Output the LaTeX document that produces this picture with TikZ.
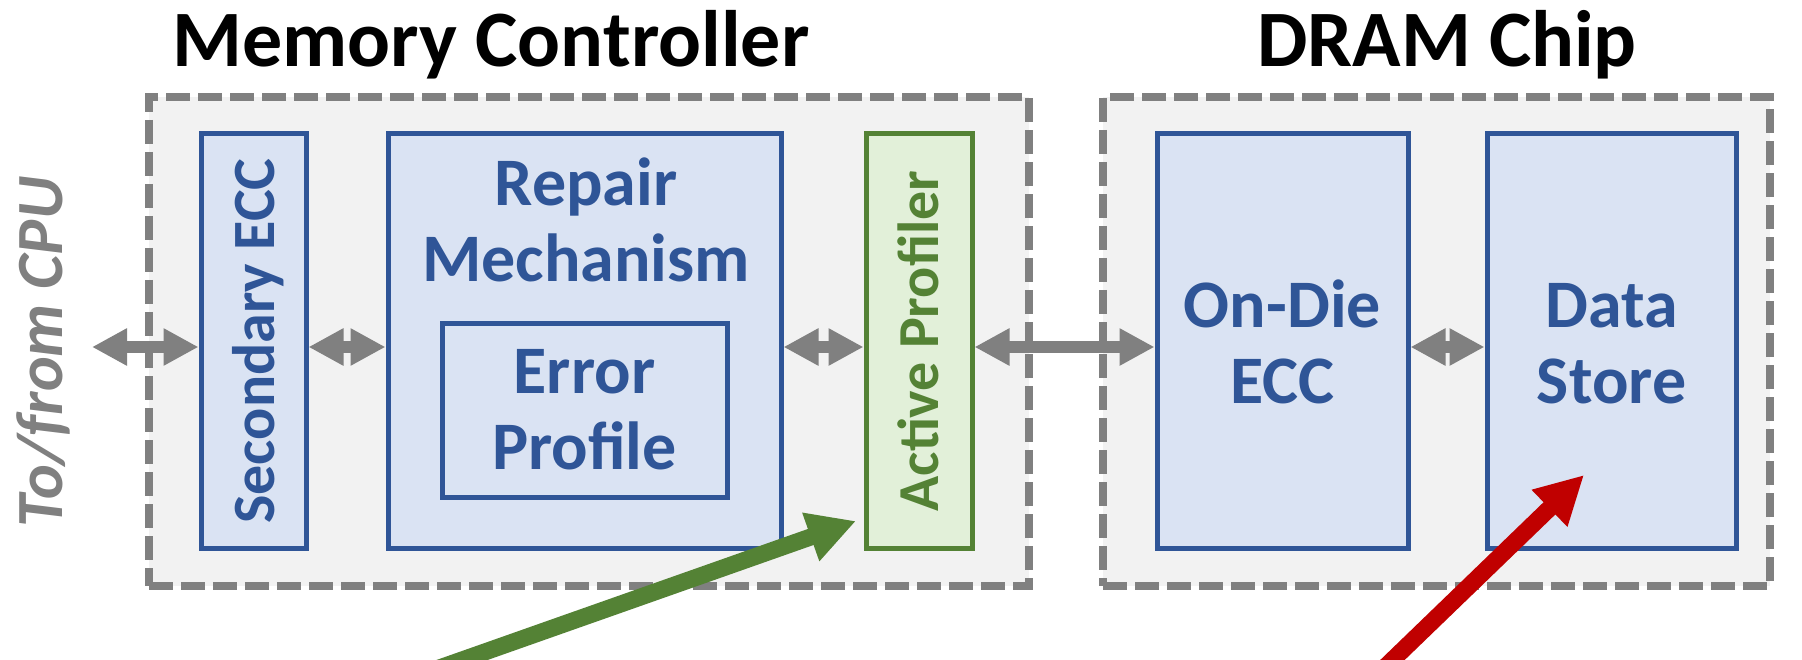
\documentclass[tikz,border=0pt]{standalone}
\usepackage{fontspec}
\setmainfont{Carlito}
\usetikzlibrary{arrows.meta}
\definecolor{boxblue}{HTML}{2F5597}
\definecolor{fillblue}{HTML}{DAE3F3}
\definecolor{boxgreen}{HTML}{548235}
\definecolor{fillgreen}{HTML}{E2F0D9}
\definecolor{linegray}{HTML}{808080}
\definecolor{regiongray}{HTML}{F2F2F2}
\definecolor{arrowred}{HTML}{C00000}
\begin{document}
\begin{tikzpicture}[x=1bp,y=-1bp,
  region/.style={draw=linegray, fill=regiongray, line width=8bp, dash pattern=on 24bp off 8bp, inner sep=0, minimum height=489bp},
  block/.style={draw=boxblue, fill=fillblue, line width=5bp, inner sep=0, minimum height=415bp},
  greenblock/.style={draw=boxgreen, fill=fillgreen, line width=5bp, inner sep=0, minimum height=415bp},
  lbl/.style={text=boxblue, font=\fontsize{68bp}{77bp}\selectfont\bfseries, anchor=base, inner sep=0},
  title/.style={text=black, font=\fontsize{80bp}{90bp}\selectfont\bfseries, anchor=base, inner sep=0},
  gar/.style={draw=linegray, line width=12bp, {Triangle[length=35bp,width=35bp]}-{Triangle[length=35bp,width=35bp]}},
  bigarrow/.style={line width=17bp, -{Triangle[length=48bp,width=48bp]}}
]
\clip (0,0) rectangle (1802,660);
\fill[white] (0,0) rectangle (1802,660);

% regions
\node[region, minimum width=880bp] (mc) at (589,341.5) {};
\node[region, minimum width=667bp] (dram) at (1436.5,341.5) {};

% titles
\node[title] (mctitle) at (491,67) {Memory Controller};
\node[title] (dramtitle) at (1447,67) {DRAM Chip};

% blocks
\node[block, minimum width=105bp] (sec) at (253.5,341) {};
\node[block, minimum width=393bp] (rep) at (584.5,341) {};
\node[block, minimum width=285bp, minimum height=174bp] (err) at (584.5,410) {};
\node[greenblock, minimum width=106bp] (ap) at (919,341) {};
\node[block, minimum width=251bp] (ode) at (1282.5,341) {};
\node[block, minimum width=249bp] (ds) at (1611.5,341) {};

% labels
\node[lbl] (repl1) at (586,205) {Repair};
\node[lbl] (repl2) at (586,281) {Mechanism};
\node[lbl] (errl1) at (584.5,393) {Error};
\node[lbl] (errl2) at (584.5,469) {Profile};
\node[lbl] (odel1) at (1282.5,327) {On-Die};
\node[lbl] (odel2) at (1282.5,403) {ECC};
\node[lbl] (dsl1) at (1611.5,327) {Data};
\node[lbl] (dsl2) at (1611.5,403) {Store};
\node[lbl, rotate=90, font=\fontsize{60bp}{70bp}\selectfont\bfseries] (secl) at (274,341) {Secondary ECC};
\node[lbl, rotate=90, text=boxgreen, font=\fontsize{58bp}{68bp}\selectfont\bfseries] (apl) at (938,341) {Active Profiler};
\node[lbl, rotate=90, text=linegray, font=\fontsize{66bp}{76bp}\selectfont\bfseries\itshape] (cpul) at (62,352) {To/from CPU};

% gray bidirectional connectors
\coordinate (row) at (0,347);
\coordinate (cpu) at (92,347);
\draw[gar] (cpu) -- (sec.west |- row);
\draw[gar] (sec.east |- row) -- (rep.west |- row);
\draw[gar] (rep.east |- row) -- (ap.west |- row);
\draw[gar] (ap.east |- row) -- (ode.west |- row);
\draw[gar] (ode.east |- row) -- (ds.west |- row);

% coloured pointer arrows
\coordinate (gtail) at (428,672);
\coordinate (gtip) at (856,521);
\coordinate (rtail) at (1380,672);
\coordinate (rtip) at (1584,475);
\draw[bigarrow, draw=boxgreen, fill=boxgreen] (gtail) -- (gtip);
\draw[bigarrow, draw=arrowred, fill=arrowred] (rtail) -- (rtip);
\end{tikzpicture}
\end{document}
